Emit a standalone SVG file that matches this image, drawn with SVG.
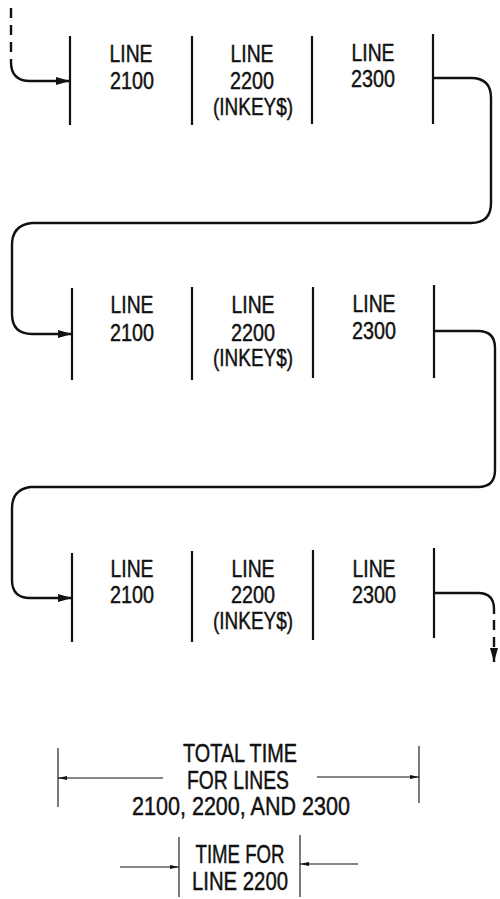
<svg xmlns="http://www.w3.org/2000/svg" width="500" height="899" viewBox="0 0 500 899">
<defs>
<style>
.bg{fill:#fff}
.bar{stroke:#111;stroke-width:2.2;fill:none}
.con{stroke:#111;stroke-width:2.4;fill:none}
.dash{stroke:#111;stroke-width:2.4;fill:none;stroke-dasharray:10 7}
.dim{stroke:#111;stroke-width:1.1;fill:none}
text{font-family:"Liberation Sans",Arial,sans-serif;font-size:24.5px;fill:#111;stroke:#111;stroke-width:0.45;text-anchor:middle}
.big{font-size:25.5px}
</style>
<marker id="ah" markerUnits="userSpaceOnUse" markerWidth="16" markerHeight="10" refX="14" refY="4.5" orient="auto">
<path d="M0,0.5 L14,4.5 L0,8.5 z" fill="#111"/>
</marker>
<marker id="dh" markerUnits="userSpaceOnUse" markerWidth="10" markerHeight="6" refX="9" refY="2.5" orient="auto">
<path d="M0,0.5 L9,2.5 L0,4.5 z" fill="#111"/>
</marker>
</defs>
<rect class="bg" width="500" height="899"/>

<g id="row1">
<path class="bar" d="M70,36V125M192,36V125M312,36V124M433,34V124"/>
<g id="r1-2100"><text x="131" y="62" textLength="43" lengthAdjust="spacingAndGlyphs">LINE</text><text x="132" y="89" textLength="44" lengthAdjust="spacingAndGlyphs">2100</text></g>
<g id="r1-2200"><text x="252" y="62" textLength="43" lengthAdjust="spacingAndGlyphs">LINE</text><text x="252" y="89" textLength="44" lengthAdjust="spacingAndGlyphs">2200</text><text x="253" y="115" textLength="80" lengthAdjust="spacingAndGlyphs">(INKEY$)</text></g>
<g id="r1-2300"><text x="373" y="61" textLength="43" lengthAdjust="spacingAndGlyphs">LINE</text><text x="373" y="87" textLength="44" lengthAdjust="spacingAndGlyphs">2300</text></g>
</g>

<g id="row2">
<path class="bar" d="M72,288V380M192,287V380M313,287V378M434,285V378"/>
<g id="r2-2100"><text x="132" y="313" textLength="43" lengthAdjust="spacingAndGlyphs">LINE</text><text x="132" y="341" textLength="44" lengthAdjust="spacingAndGlyphs">2100</text></g>
<g id="r2-2200"><text x="253" y="313" textLength="43" lengthAdjust="spacingAndGlyphs">LINE</text><text x="253" y="341" textLength="44" lengthAdjust="spacingAndGlyphs">2200</text><text x="253" y="366" textLength="80" lengthAdjust="spacingAndGlyphs">(INKEY$)</text></g>
<g id="r2-2300"><text x="374" y="312" textLength="43" lengthAdjust="spacingAndGlyphs">LINE</text><text x="374" y="339" textLength="44" lengthAdjust="spacingAndGlyphs">2300</text></g>
</g>

<g id="row3">
<path class="bar" d="M72,553V642M192,551V642M313,550V640M434,548V638"/>
<g id="r3-2100"><text x="132" y="577" textLength="43" lengthAdjust="spacingAndGlyphs">LINE</text><text x="132" y="603" textLength="44" lengthAdjust="spacingAndGlyphs">2100</text></g>
<g id="r3-2200"><text x="253" y="577" textLength="43" lengthAdjust="spacingAndGlyphs">LINE</text><text x="253" y="603" textLength="44" lengthAdjust="spacingAndGlyphs">2200</text><text x="253" y="629" textLength="80" lengthAdjust="spacingAndGlyphs">(INKEY$)</text></g>
<g id="r3-2300"><text x="374" y="577" textLength="43" lengthAdjust="spacingAndGlyphs">LINE</text><text x="374" y="603" textLength="44" lengthAdjust="spacingAndGlyphs">2300</text></g>
</g>

<g id="connectors">
<path class="dash" d="M11,8V62"/>
<path class="con" d="M11,62Q11,81 30,81H70" marker-end="url(#ah)"/>
<path class="con" d="M433,78H471Q491,78 491,98V203Q491,223 471,223H32Q12,225 12,245V314Q12,334 32,334H72" marker-end="url(#ah)"/>
<path class="con" d="M434,331H478Q495,331 495,348V470Q495,487 478,487H30Q12,490 12,508V580Q12,598 30,598H72" marker-end="url(#ah)"/>
<path class="con" d="M434,593H478Q494,593 494,609V614"/>
<path class="dash" d="M494,620V662" marker-end="url(#ah)"/>
</g>

<g id="total-time">
<path class="dim" d="M58,748V807M419,746V803"/>
<path class="dim" d="M163,778H58" marker-end="url(#dh)"/>
<path class="dim" d="M317,777H419" marker-end="url(#dh)"/>
<text class="big" x="240" y="762" textLength="114" lengthAdjust="spacingAndGlyphs">TOTAL TIME</text>
<text class="big" x="238" y="789" textLength="102" lengthAdjust="spacingAndGlyphs">FOR LINES</text>
<text class="big" x="241" y="815" textLength="218" lengthAdjust="spacingAndGlyphs">2100, 2200, AND 2300</text>
</g>

<g id="time-2200">
<path class="dim" d="M179,837V897M300,835V897"/>
<path class="dim" d="M120,867H179" marker-end="url(#dh)"/>
<path class="dim" d="M358,864H300" marker-end="url(#dh)"/>
<text class="big" x="240" y="863" textLength="89" lengthAdjust="spacingAndGlyphs">TIME FOR</text>
<text class="big" x="240" y="890" textLength="96" lengthAdjust="spacingAndGlyphs">LINE 2200</text>
</g>
</svg>
